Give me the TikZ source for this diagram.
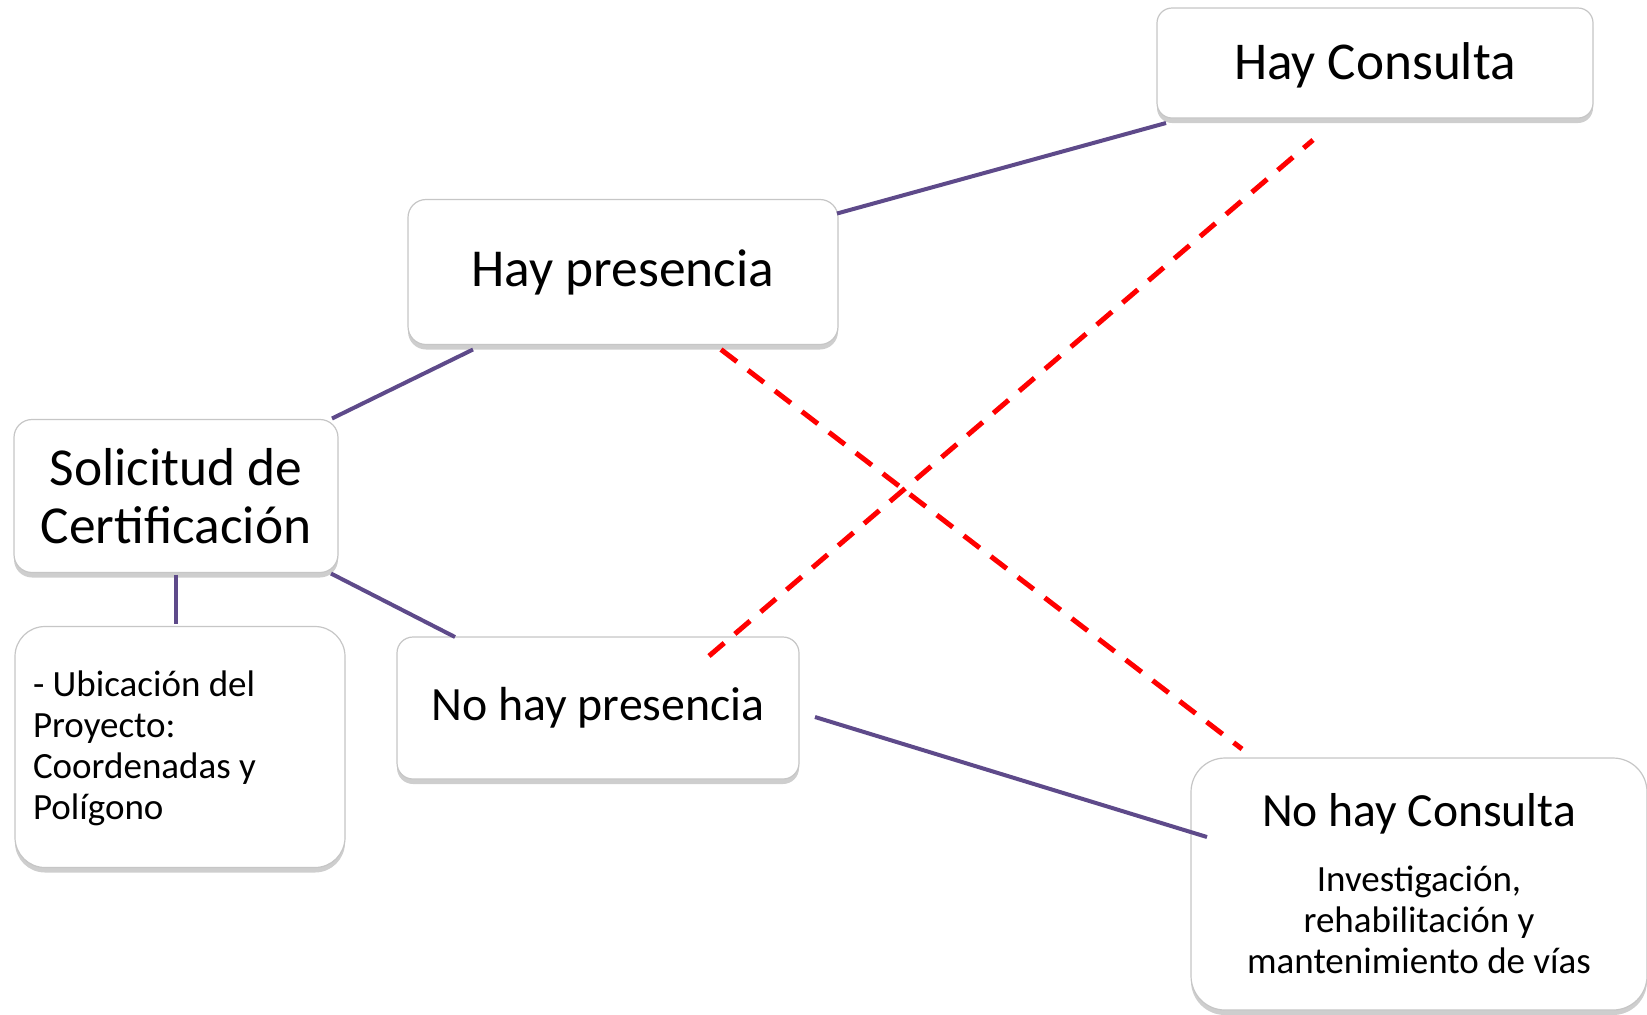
\documentclass[tikz,border=0pt]{standalone}
\usepackage{fontspec}
\setmainfont{Carlito}
\usetikzlibrary{calc,shadows}
\definecolor{conn}{RGB}{94,74,138}
\definecolor{dashred}{RGB}{255,0,0}
\newcommand{\fs}[2]{\fontsize{#1}{#2}\selectfont}
\tikzset{
  box/.style={draw=gray!45, line width=0.6pt, fill=white, rounded corners=#1,
    drop shadow={shadow xshift=0pt, shadow yshift=-2.5pt, fill=gray!70, opacity=0.55},
    inner sep=0pt, outer sep=0pt, anchor=center, align=center},
  box/.default=9pt,
  conline/.style={draw=conn, line width=2pt},
  redline/.style={draw=dashred, line width=2.5pt, dash pattern=on 10pt off 7pt},
  txt/.style={inner sep=0pt, outer sep=0pt, anchor=center, align=center},
}
\begin{document}
\begin{tikzpicture}[x=0.5pt, y=-0.5pt]
\useasboundingbox (0,0) rectangle (1647,1014);
% boxes
\node[box=7.5pt, minimum width=218pt, minimum height=55pt] (hc) at (1375,63) {};
\node[txt, font=\fs{26.6}{32}] (hct) at (1375,65) {Hay Consulta};
\node[box=9pt, minimum width=215pt, minimum height=72.5pt, font=\fs{26.7}{30}] (hp) at (623,272)
  {Hay presencia};
\node[box=9pt, minimum width=162pt, minimum height=76.5pt, font=\fs{26.7}{29}] (sol) at (176,496)
  {Solicitud de\\Certificación};
\node[box=15pt, minimum width=165pt, minimum height=120.5pt] (ubi) at (180,747) {};
\node[txt, anchor=west, align=left, font=\fs{18.5}{20.5}] (ubit) at (33,748)
  {- Ubicación del\\Proyecto:\\Coordenadas y\\Polígono};
\node[box=8pt, minimum width=201pt, minimum height=71pt, font=\fs{23.9}{27}] (nhp) at (598,708)
  {No hay presencia};
\node[box=17pt, minimum width=228pt, minimum height=126pt] (nhc) at (1419,884) {};
\node[txt, font=\fs{23.8}{28}] (nhct) at (1419,814) {No hay Consulta};
\node[txt, font=\fs{18.5}{20.5}] (nhcb) at (1419,920)
  {Investigación,\\rehabilitación y\\mantenimiento de vías};
% connectors
\draw[conline] ($(hp.north east)+(-1,14)$) -- ($(hc.south west)+(9,5)$);
\draw[conline] ($(sol.north east)+(-6,-1)$) -- ($(hp.south west)+(65,5)$);
\draw[conline] ($(sol.south east)+(-7,1)$) -- ($(nhp.north west)+(58,0)$);
\draw[conline] ($(sol.south)+(0,2)$) -- ($(ubi.north)+(-4,-3)$);
\draw[conline] ($(nhp.east)+(16,9)$) -- ($(nhc.west)+(16,-47)$);
\draw[redline] ($(hp.south)+(98,5)$) -- ($(nhc.north west)+(51,-9)$);
\draw[redline] ($(nhp.north)+(111,19)$) -- ($(hc.south)+(-62,22)$);
\end{tikzpicture}
\end{document}
